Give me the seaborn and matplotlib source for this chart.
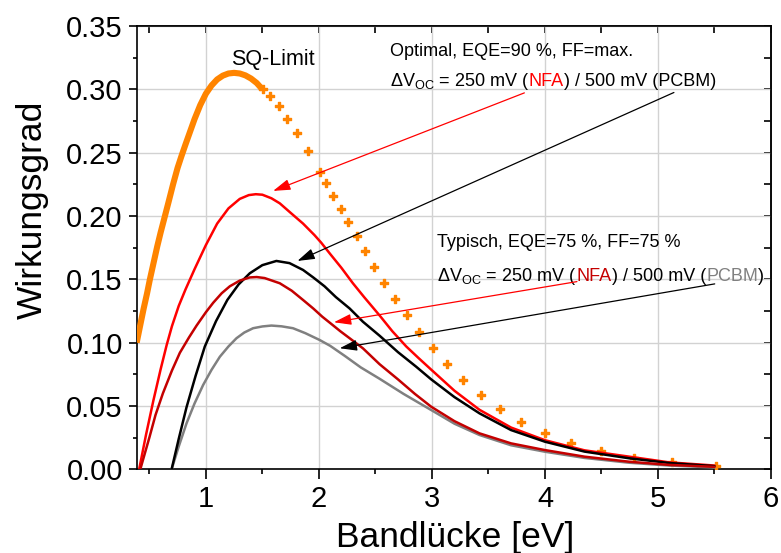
import matplotlib
matplotlib.use("Agg")
import numpy as np
import pandas as pd
import seaborn as sns
import matplotlib.pyplot as plt
from matplotlib.ticker import MultipleLocator, FormatStrFormatter
from matplotlib.offsetbox import TextArea, HPacker, AnnotationBbox

# ---------------- data ----------------
# Shockley-Queisser limit: dense part (appears as continuous band)
sq_dense_x = [0.388, 0.42, 0.45, 0.48, 0.505, 0.54, 0.57, 0.60, 0.638, 0.67, 0.71, 0.75,
              0.785, 0.82, 0.85, 0.90, 0.95, 1.00, 1.05, 1.10, 1.15, 1.20, 1.25, 1.30,
              1.35, 1.40, 1.45, 1.50]
sq_dense_y = [0.100, 0.114, 0.127, 0.139, 0.150, 0.164, 0.176, 0.187, 0.200, 0.211, 0.225, 0.238,
              0.2475, 0.2565, 0.264, 0.2765, 0.2875, 0.2965, 0.3030, 0.3078, 0.3108, 0.3125, 0.313, 0.3125,
              0.311, 0.3085, 0.305, 0.300]
# Shockley-Queisser limit: separated data points
sq_x = [1.506, 1.571, 1.645, 1.718, 1.810, 1.901, 2.007, 2.060, 2.128, 2.193,
        2.260, 2.334, 2.407, 2.487, 2.578, 2.676, 2.778, 2.886, 3.006, 3.132,
        3.276, 3.432, 3.600, 3.790, 4.000, 4.232, 4.492, 4.790, 5.125, 5.512]
sq_y = [0.3004, 0.2949, 0.2867, 0.2767, 0.2654, 0.2514, 0.2348, 0.2259, 0.2161, 0.2058,
        0.1951, 0.1840, 0.1722, 0.1600, 0.1474, 0.1348, 0.1216, 0.1086, 0.0958, 0.0833,
        0.0702, 0.0585, 0.0476, 0.0376, 0.0286, 0.0207, 0.0144, 0.0092, 0.0055, 0.0024]

# Optimal, NFA (dV = 250 mV)
opt_nfa_x = [0.41, 0.47, 0.535, 0.60, 0.653, 0.70, 0.76, 0.82, 0.90, 1.00, 1.10, 1.20, 1.30,
             1.38, 1.442, 1.50, 1.58, 1.654, 1.75, 1.86, 1.96, 2.02, 2.10, 2.20, 2.30, 2.40,
             2.537, 2.65, 2.773, 2.88, 2.99, 3.20, 3.421, 3.70, 4.00, 4.35, 4.746, 5.10, 5.50]
opt_nfa_y = [0.0, 0.027, 0.054, 0.079, 0.098, 0.113, 0.129, 0.142, 0.158, 0.177, 0.194, 0.206, 0.2135,
             0.2165, 0.2172, 0.2168, 0.214, 0.210, 0.2025, 0.194, 0.185, 0.179, 0.170, 0.159, 0.147, 0.136,
             0.1215, 0.109, 0.097, 0.088, 0.079, 0.062, 0.047, 0.033, 0.023, 0.015, 0.010, 0.0055, 0.003]
# Optimal, PCBM (dV = 500 mV)
opt_pcbm_x = [0.697, 0.76, 0.829, 0.91, 0.991, 1.09, 1.19, 1.29, 1.389, 1.50, 1.624, 1.74,
              1.86, 1.95, 2.05, 2.15, 2.272, 2.39, 2.537, 2.70, 2.861, 2.994, 3.20, 3.421,
              3.70, 4.00, 4.35, 4.746, 5.10, 5.50]
opt_pcbm_y = [0.0, 0.024, 0.049, 0.074, 0.097, 0.117, 0.1337, 0.146, 0.1548, 0.1612, 0.1645, 0.1628,
              0.1574, 0.1515, 0.1445, 0.136, 0.127, 0.1165, 0.1055, 0.0925, 0.081, 0.071, 0.057, 0.0442,
              0.031, 0.0218, 0.014, 0.0087, 0.005, 0.0025]
# Typical, NFA
typ_nfa_x = [0.42, 0.50, 0.555, 0.62, 0.70, 0.77, 0.85, 0.918, 1.00, 1.065, 1.14, 1.212, 1.30,
             1.389, 1.45, 1.52, 1.654, 1.76, 1.86, 1.95, 2.03, 2.10, 2.19, 2.272, 2.39, 2.537,
             2.70, 2.85, 2.994, 3.20, 3.421, 3.70, 4.00, 4.35, 4.746, 5.10, 5.50]
typ_nfa_y = [0.0, 0.025, 0.043, 0.060, 0.078, 0.092, 0.104, 0.1135, 0.124, 0.1315, 0.139, 0.1445, 0.149,
             0.1515, 0.1518, 0.151, 0.1469, 0.141, 0.1337, 0.127, 0.1205, 0.1155, 0.109, 0.1035, 0.0955, 0.083,
             0.071, 0.0595, 0.0494, 0.038, 0.0284, 0.0205, 0.0152, 0.010, 0.006, 0.0035, 0.002]
# Typical, PCBM
typ_pcbm_x = [0.697, 0.76, 0.829, 0.90, 0.976, 1.05, 1.124, 1.20, 1.271, 1.34, 1.418, 1.50, 1.58,
              1.67, 1.771, 1.88, 2.007, 2.10, 2.23, 2.37, 2.537, 2.75, 2.994, 3.20, 3.421, 3.70,
              4.00, 4.35, 4.746, 5.10, 5.50]
typ_pcbm_y = [0.0, 0.018, 0.0363, 0.052, 0.0666, 0.0785, 0.0889, 0.097, 0.1035, 0.108, 0.1114, 0.1128, 0.1135,
              0.1129, 0.1114, 0.1075, 0.1021, 0.0975, 0.0895, 0.0805, 0.0715, 0.0595, 0.0468, 0.036, 0.0271, 0.019,
              0.0139, 0.009, 0.0052, 0.003, 0.0015]

x_label = "Bandlücke [eV]"
y_label = "Wirkungsgrad"

# ---------------- style ----------------
sns.set_theme(style="ticks")
plt.rcParams["font.family"] = ["Liberation Sans", "DejaVu Sans"]
plt.rcParams["mathtext.fontset"] = "custom"
plt.rcParams["mathtext.rm"] = "Liberation Sans"
plt.rcParams["mathtext.it"] = "Liberation Sans:italic"
plt.rcParams["mathtext.bf"] = "Liberation Sans:bold"

ORANGE = "#ff8400"
RED = "#ff0000"
DARKRED = "#c40000"
GRAY = "#808080"

fig, ax = plt.subplots(figsize=(7.81, 5.53), dpi=100)
fig.subplots_adjust(left=0.175, right=0.9872, top=0.953, bottom=0.1513)

ax.grid(True, which="major", color="#d2d2d2", lw=1.0)
ax.set_axisbelow(True)

# curves
sns.lineplot(x=sq_dense_x, y=sq_dense_y, ax=ax, color=ORANGE, lw=4.4, sort=False,
             solid_capstyle="butt", zorder=3)
sns.scatterplot(x=sq_x, y=sq_y, ax=ax, color=ORANGE, marker="P", s=26,
                edgecolor=ORANGE, linewidth=1.0, zorder=3)
sns.lineplot(x=opt_nfa_x, y=opt_nfa_y, ax=ax, color=RED, lw=1.8, sort=False, zorder=4)
sns.lineplot(x=typ_pcbm_x, y=typ_pcbm_y, ax=ax, color=GRAY, lw=1.8, sort=False, zorder=4)
sns.lineplot(x=opt_pcbm_x, y=opt_pcbm_y, ax=ax, color="black", lw=1.8, sort=False, zorder=4)
sns.lineplot(x=typ_nfa_x, y=typ_nfa_y, ax=ax, color=DARKRED, lw=1.8, sort=False, zorder=4)

# axes
ax.set_xlim(0.388, 6.0)
ax.set_ylim(0.0, 0.35)
ax.xaxis.set_major_locator(MultipleLocator(1))
ax.xaxis.set_minor_locator(MultipleLocator(0.5))
ax.yaxis.set_major_locator(MultipleLocator(0.05))
ax.yaxis.set_minor_locator(MultipleLocator(0.025))
ax.yaxis.set_major_formatter(FormatStrFormatter("%.2f"))
ax.xaxis.set_major_formatter(FormatStrFormatter("%d"))

for s in ax.spines.values():
    s.set_visible(True)
    s.set_linewidth(1.2)
    s.set_color("black")

ax.tick_params(axis="x", which="major", direction="out", length=7, width=1.2,
               labelsize=21, pad=4, color="black", labelcolor="black")
ax.tick_params(axis="x", which="minor", direction="out", length=3.5, width=1.2, color="black")
ax.tick_params(axis="y", which="major", direction="out", length=6, width=1.2,
               labelsize=21, pad=4, color="black", labelcolor="black")
ax.tick_params(axis="y", which="minor", direction="out", length=3, width=1.2, color="black")

secx = ax.secondary_xaxis("top")
secx.xaxis.set_major_locator(MultipleLocator(1))
secx.xaxis.set_minor_locator(MultipleLocator(0.5))
secx.tick_params(which="both", direction="in", labeltop=False, length=5, width=1.2, color="black")
secx.spines["top"].set_linewidth(1.2)
secy = ax.secondary_yaxis("right")
secy.yaxis.set_major_locator(MultipleLocator(0.05))
secy.yaxis.set_minor_locator(MultipleLocator(0.025))
secy.tick_params(which="both", direction="in", labelright=False, length=5, width=1.2, color="black")
secy.spines["right"].set_linewidth(1.2)

ax.set_xlabel(x_label, fontsize=25.5, color="black", va="baseline")
ax.xaxis.set_label_coords(0.502, -0.1746)
ax.set_ylabel(y_label, fontsize=25.5, color="black", va="center")
ax.yaxis.set_label_coords(-0.165, 0.586)

# texts
ax.text(1.59, 0.3237, "SQ-Limit", fontsize=15.5, ha="center", va="center", color="black")


def colored_line(x, y, parts, fontsize=13):
    areas = [TextArea(t, textprops=dict(color=c, fontsize=fontsize)) for t, c in parts]
    box = HPacker(children=areas, align="baseline", pad=0, sep=0)
    ab = AnnotationBbox(box, (x, y), xycoords="data", box_alignment=(0, 0.5),
                        frameon=False, pad=0)
    ax.add_artist(ab)


dv = r"$\Delta\mathrm{V}_{\mathrm{OC}}$"
colored_line(2.625, 0.3299, [("Optimal, EQE=90 %, FF=max.", "black")])
colored_line(2.625, 0.3060, [(dv + " = 250 mV (", "black"), ("NFA", RED),
                             (") / 500 mV (PCBM)", "black")])
colored_line(3.049, 0.1788, [("Typisch, EQE=75 %, FF=75 %", "black")])
colored_line(3.049, 0.1520, [(dv + " = 250 mV (", "black"), ("NFA", DARKRED),
                             (") / 500 mV (", "black"), ("PCBM", GRAY), (")", "black")])


# arrows
def arrow(tail, head, color):
    ax.annotate("", xy=head, xytext=tail,
                arrowprops=dict(arrowstyle="-|>,head_length=0.7,head_width=0.22",
                                color=color, lw=0.9, mutation_scale=15,
                                shrinkA=0, shrinkB=0), zorder=6)


arrow((3.818, 0.2972), (1.595, 0.2198), RED)
arrow((5.141, 0.2975), (1.810, 0.1645), "black")
arrow((4.283, 0.1482), (2.133, 0.1161), RED)
arrow((5.502, 0.1464), (2.184, 0.0956), "black")

fig.savefig("out.png", dpi=100)
